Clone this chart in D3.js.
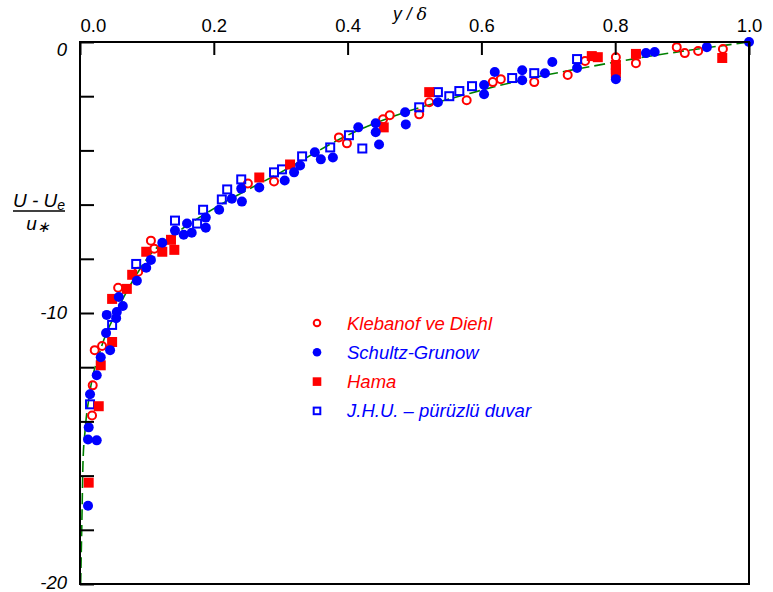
<!DOCTYPE html>
<html>
<head>
<meta charset="utf-8">
<script src="https://cdn.jsdelivr.net/npm/d3@7"></script>
<style>
body { margin: 0; background: #fff; }
text { font-family: "Liberation Sans", Arial, sans-serif; }
</style>
</head>
<body>
<svg id="chart"></svg>
<script>
const canWidth = 773;
const canHeight = 592;
const plotLeft = 80;
const plotRight = 749;
const plotTop = 42;
const plotBottom = 584;

// y/delta, (U-Ue)/u*
const klebanof = [[0.018,-13.78],[0.019,-12.67],[0.022,-11.37],[0.033,-11.22],[0.057,-9.07],[0.087,-8.48],
  [0.106,-7.33],[0.111,-7.63],[0.251,-5.22],[0.290,-5.15],[0.387,-3.52],[0.399,-3.74],[0.453,-2.85],
  [0.463,-2.70],[0.507,-2.67],[0.522,-2.22],[0.578,-2.15],[0.617,-1.48],[0.629,-1.37],[0.679,-1.48],
  [0.729,-1.22],[0.755,-0.70],[0.801,-0.56],[0.831,-0.78],[0.892,-0.19],[0.904,-0.41],[0.924,-0.33],[0.961,-0.26]];
const schultz = [[0.012,-17.11],[0.013,-14.22],[0.012,-14.67],[0.025,-14.70],[0.015,-13.0],[0.025,-12.30],
  [0.031,-11.63],[0.045,-11.37],[0.039,-10.74],[0.040,-10.07],[0.054,-10.19],[0.055,-9.96],[0.058,-9.41],
  [0.064,-9.74],[0.085,-8.81],[0.099,-8.33],[0.106,-8.04],[0.123,-7.41],[0.142,-6.96],[0.155,-7.11],
  [0.160,-6.70],[0.167,-7.04],[0.188,-6.48],[0.188,-6.85],[0.208,-6.19],[0.227,-5.78],[0.242,-5.89],
  [0.241,-5.41],[0.268,-5.37],[0.306,-5.11],[0.320,-4.81],[0.329,-4.56],[0.351,-4.07],[0.360,-4.33],
  [0.378,-4.26],[0.416,-3.15],[0.442,-3.0],[0.442,-3.33],[0.447,-3.78],[0.486,-2.59],[0.487,-3.04],
  [0.535,-2.22],[0.604,-1.59],[0.604,-1.93],[0.620,-1.11],[0.661,-1.04],[0.661,-1.41],[0.695,-1.15],
  [0.706,-0.74],[0.743,-0.96],[0.801,-1.37],[0.846,-0.41],[0.859,-0.37],[0.937,-0.19],[1.0,0]];
const hama = [[0.013,-16.26],[0.028,-13.44],[0.031,-11.93],[0.048,-11.07],[0.048,-9.48],[0.070,-9.11],
  [0.078,-8.59],[0.099,-7.74],[0.123,-7.74],[0.136,-7.30],[0.141,-7.67],[0.268,-5.0],[0.314,-4.52],
  [0.454,-3.15],[0.522,-1.85],[0.765,-0.52],[0.774,-0.56],[0.801,-0.85],[0.801,-1.0],[0.801,-1.15],
  [0.831,-0.44],[0.960,-0.59]];
const jhu = [[0.015,-13.37],[0.048,-10.44],[0.084,-8.19],[0.142,-6.59],[0.175,-6.70],[0.184,-6.19],
  [0.212,-5.81],[0.220,-5.44],[0.241,-5.07],[0.290,-4.81],[0.302,-4.70],[0.332,-4.22],[0.374,-3.89],
  [0.402,-3.44],[0.422,-3.93],[0.507,-2.41],[0.535,-1.85],[0.552,-2.0],[0.567,-1.81],[0.586,-1.63],
  [0.646,-1.33],[0.679,-1.15],[0.743,-0.63]];
const curve = [[0.001,-20],[0.003,-17.44],[0.0045,-15.48],[0.0075,-14.37],[0.015,-12.89],[0.030,-11.41],
  [0.055,-9.93],[0.079,-8.81],[0.10,-8.0],[0.149,-6.96],[0.20,-6.15],[0.30,-4.81],[0.40,-3.44],
  [0.60,-1.78],[0.80,-0.74],[1.0,0]];

const xTicks = [0, 0.2, 0.4, 0.6, 0.8, 1.0];
const yTicks = [0, -2, -4, -6, -8, -10, -12, -14, -16, -18, -20];
const legendNames = ["Klebanof ve Diehl", "Schultz-Grunow", "Hama", "J.H.U. \u2013 p\u00fcr\u00fczl\u00fc duvar"];
const legendColors = ["#ff0000", "#0000ff", "#ff0000", "#0000ff"];
const legendShapes = ["openCircle", "circle", "square", "openSquare"];

const xs = d3.scaleLinear().domain([0, 1]).range([plotLeft, plotRight]);
const ys = d3.scaleLinear().domain([0, -20]).range([plotTop, plotBottom]);

const svg = d3.select('#chart').attr('width', canWidth).attr('height', canHeight);

function drawMarks(g, data, shape, color, size) {
    if (shape == 'circle' || shape == 'openCircle') {
        g.selectAll('circle.' + shape)
        .data(data)
        .enter()
        .append('circle')
        .attr('class', shape)
        .attr('cx', function(d) { return xs(d[0]); })
        .attr('cy', function(d) { return ys(d[1]); })
        .attr('r', shape == 'circle' ? size : size - 1)
        .attr('fill', shape == 'circle' ? color : 'none')
        .attr('stroke', shape == 'circle' ? 'none' : color)
        .attr('stroke-width', 2);
    } else {
        const s = shape == 'square' ? size * 2 : size * 2 - 2;
        g.selectAll('rect.' + shape)
        .data(data)
        .enter()
        .append('rect')
        .attr('class', shape)
        .attr('x', function(d) { return xs(d[0]) - s / 2; })
        .attr('y', function(d) { return ys(d[1]) - s / 2; })
        .attr('width', s)
        .attr('height', s)
        .attr('fill', shape == 'square' ? color : 'none')
        .attr('stroke', shape == 'square' ? 'none' : color)
        .attr('stroke-width', 2);
    }
}

// dashed reference curve
const line = d3.line()
    .x(function(d) { return xs(d[0]); })
    .y(function(d) { return ys(d[1]); })
    .curve(d3.curveMonotoneX);
svg.append('path')
    .datum(curve)
    .attr('d', line)
    .attr('fill', 'none')
    .attr('stroke', '#008000')
    .attr('stroke-width', 1.6)
    .attr('stroke-dasharray', '11,5');

const marks = svg.append('g');
drawMarks(marks, klebanof, 'openCircle', '#ff0000', 5);
drawMarks(marks, jhu, 'openSquare', '#0000ff', 5);
drawMarks(marks, hama, 'square', '#ff0000', 5);
drawMarks(marks, schultz, 'circle', '#0000ff', 5);

// frame
svg.append('rect')
    .attr('x', plotLeft).attr('y', plotTop)
    .attr('width', plotRight - plotLeft).attr('height', plotBottom - plotTop)
    .attr('fill', 'none').attr('stroke', '#000').attr('stroke-width', 2);

const xa = d3.axisTop(xs).tickValues(xTicks).tickSizeInner(-13).tickSizeOuter(0).tickPadding(10)
    .tickFormat(d3.format('.1f'));
const gx = svg.append('g').attr('transform', `translate(0, ${plotTop})`).call(xa);
gx.select('.domain').remove();
gx.selectAll('line').attr('stroke-width', 2);
gx.selectAll('text')
    .attr('font-size', 18.5).attr('fill', '#000')
    .style('font-family', '"Liberation Sans", Arial, sans-serif')
    .attr('text-anchor', function(d) { return d == 0 ? 'start' : 'middle'; });

const ya = d3.axisLeft(ys).tickValues(yTicks).tickSizeInner(-14).tickSizeOuter(0).tickPadding(13)
    .tickFormat(function(d) { return d % 10 == 0 ? String(d) : ''; });
const gy = svg.append('g').attr('transform', `translate(${plotLeft}, 0)`).call(ya);
gy.select('.domain').remove();
gy.selectAll('line').attr('stroke-width', 2);
gy.selectAll('text')
    .attr('font-size', 18.5).attr('fill', '#000').attr('font-style', 'italic')
    .style('font-family', '"Liberation Sans", Arial, sans-serif')
    .attr('dy', function(d) { return d == 0 ? '0.72em' : (d == -20 ? '0.22em' : '0.32em'); });

// axis titles
const xt = svg.append('text')
    .attr('x', 410).attr('y', 20)
    .attr('text-anchor', 'middle')
    .attr('font-size', 17.5).attr('font-style', 'italic');
xt.append('tspan').text('y / ');
xt.append('tspan').text('\u03b4').style('font-family', '"DejaVu Serif", serif');

const yt = svg.append('text')
    .attr('x', 39).attr('y', 207)
    .attr('text-anchor', 'middle')
    .attr('font-size', 19).attr('font-style', 'italic');
yt.append('tspan').text('U - U');
yt.append('tspan').text('e').attr('font-size', 14).attr('dy', 3);
svg.append('line')
    .attr('x1', 13).attr('x2', 65).attr('y1', 211).attr('y2', 211)
    .attr('stroke', '#000').attr('stroke-width', 1.5);
const yb = svg.append('text')
    .attr('x', 38).attr('y', 230)
    .attr('text-anchor', 'middle')
    .attr('font-size', 19).attr('font-style', 'italic');
yb.append('tspan').text('u');
yb.append('tspan').text('\u2217').attr('font-size', 15).attr('dy', 2);

// legend
const legend = svg.append('g');
legendNames.forEach(function(name, i) {
    const rowY = 323 + i * 29.3;
    const g = legend.append('g').attr('transform', `translate(${317 - xs(0)}, ${rowY - ys(0)})`);
    drawMarks(g, [[0, 0]], legendShapes[i], legendColors[i], 4.3);
    legend.append('text')
        .attr('x', 347).attr('y', rowY + 6.5)
        .attr('font-size', 18.5).attr('font-style', 'italic')
        .attr('fill', legendColors[i])
        .text(name);
});
</script>
</body>
</html>
